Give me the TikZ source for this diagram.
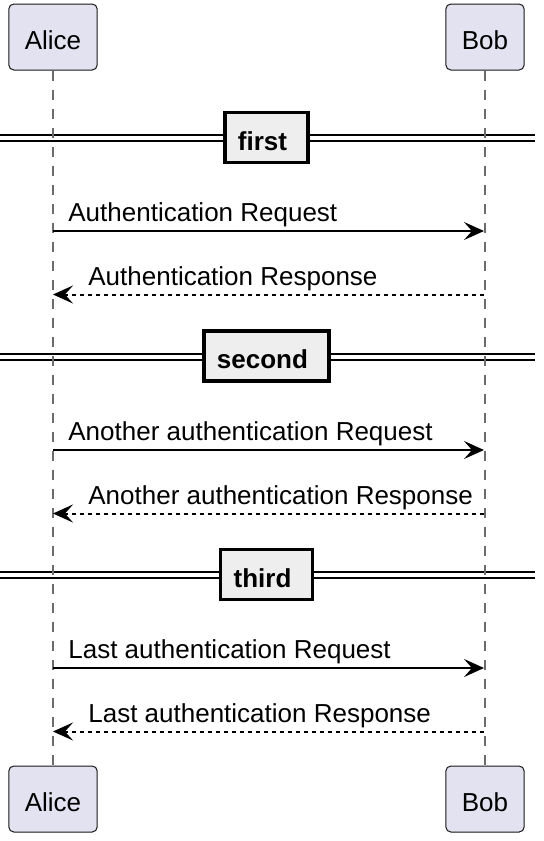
\documentclass[tikz,border=0pt]{standalone}
\usepackage{fontspec}
\setmainfont{Liberation Sans}
\usepackage{tikz}
\usetikzlibrary{arrows.meta,positioning}

\definecolor{partfill}{HTML}{E2E2F0}
\definecolor{partline}{HTML}{181818}
\definecolor{divfill}{HTML}{EEEEEE}

\begin{document}
\begin{tikzpicture}[x=0.5pt, y=-0.5pt,
  part/.style={draw=partline, fill=partfill, line width=0.5pt, rounded corners=2.5pt,
    minimum height=33pt, inner xsep=8pt, text height=12.3pt, text depth=0pt,
    font=\fontsize{13}{15}\selectfont},
  divbox/.style={draw=black, fill=divfill, line width=1.8pt, minimum height=25pt,
    inner xsep=6.5pt, text height=12.8pt, text depth=0pt,
    font=\fontsize{13}{15}\selectfont\bfseries},
  life/.style={draw=gray!85!black, line width=0.6pt, dash pattern=on 5pt off 4.5pt},
  req/.style={line width=1pt, -{Stealth[length=10pt,width=9pt,inset=4pt]}},
  resp/.style={req, dash pattern=on 2pt off 2pt},
  msglab/.style={font=\fontsize{13}{15}\selectfont, anchor=base west, inner sep=0pt}]
  \useasboundingbox (0,0) rectangle (544,841);

  % Divider double lines
  \foreach \y in {138, 356.5, 575} {
    \draw[line width=1pt] (0,\y-3) -- (535,\y-3);
    \draw[line width=1pt] (0,\y+3) -- (535,\y+3);
  }

  % Participants, top and bottom
  \node[part] (alice) at (53,37) {Alice};
  \node[part] (bob) at (485,37) {Bob};
  \node[part] (aliceEnd) at (53,799) {Alice};
  \node[part] (bobEnd) at (485,799) {Bob};

  % Lifelines
  \draw[life] (alice) -- (aliceEnd);
  \draw[life] (bob) -- (bobEnd);

  % Divider boxes
  \foreach \y/\lab in {137.5/first, 356/second, 574.5/third} {
    \node[divbox] (\lab) at (266.5,\y) {\lab\kern4pt};
  }

  % Request / response pairs
  \foreach \n/\y/\req/\resp in {
      1/231/Authentication Request/Authentication Response,
      2/450/Another authentication Request/Another authentication Response,
      3/668/Last authentication Request/Last authentication Response} {
    \coordinate (a\n) at (53,\y);
    \coordinate (b\n) at (484,\y);
    \coordinate (ar\n) at (53,\y+63.5);
    \coordinate (br\n) at (484,\y+63.5);
    \draw[req] (a\n) -- (b\n);
    \node[msglab] (reqlab\n) at ([shift={(15,-9.5)}]a\n) {\req};
    \draw[resp] (br\n) -- (ar\n);
    \node[msglab] (resplab\n) at ([shift={(35,-9.5)}]ar\n) {\resp};
  }
\end{tikzpicture}
\end{document}
